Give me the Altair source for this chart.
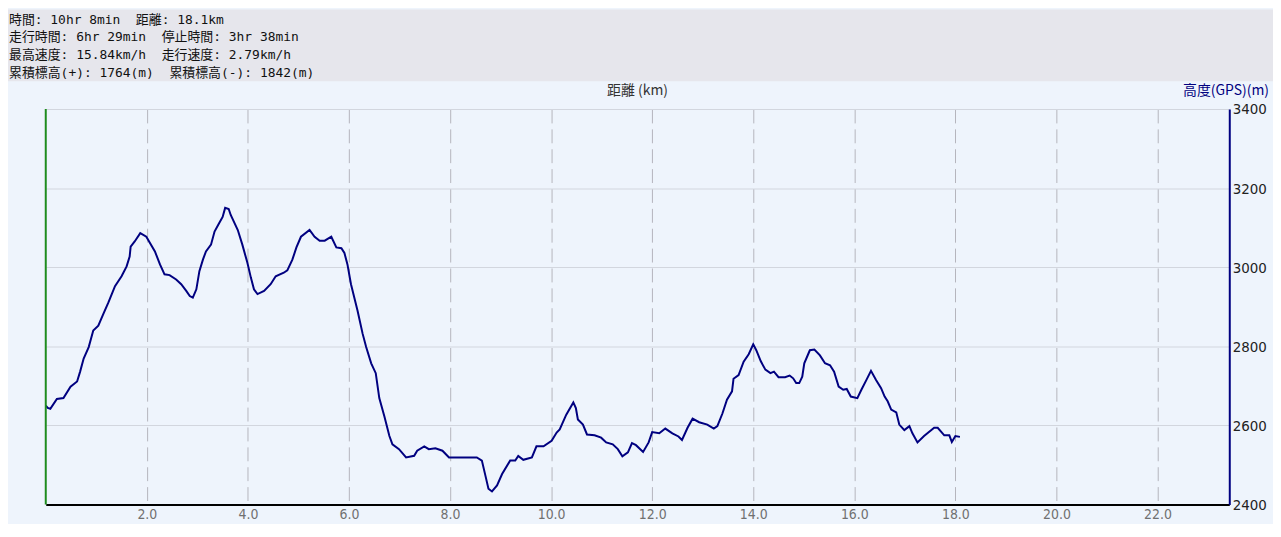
import altair as alt
import pandas as pd

# ---------------- data ----------------
km = [0.00, 0.04, 0.09, 0.22, 0.35, 0.49, 0.62, 0.68, 0.75, 0.85, 0.94, 1.04, 1.14, 1.24,
      1.37, 1.50, 1.60, 1.66, 1.68, 1.76, 1.87, 1.99, 2.16, 2.26, 2.35, 2.45, 2.58, 2.68,
      2.78, 2.85, 2.91, 2.98, 3.04, 3.11, 3.17, 3.27, 3.34, 3.43, 3.50, 3.55, 3.62, 3.66,
      3.80, 3.89, 3.99, 4.06, 4.12, 4.19, 4.32, 4.45, 4.55, 4.71, 4.78, 4.88, 4.96, 5.05,
      5.22, 5.32, 5.42, 5.52, 5.65, 5.75, 5.85, 5.91, 5.97, 6.04, 6.17, 6.27, 6.34, 6.44,
      6.53, 6.60, 6.70, 6.80, 6.86, 6.99, 7.13, 7.29, 7.35, 7.49, 7.58, 7.71, 7.85, 7.98,
      8.53, 8.63, 8.70, 8.76, 8.83, 8.93, 9.03, 9.19, 9.29, 9.35, 9.45, 9.62, 9.71, 9.85,
      10.01, 10.11, 10.17, 10.30, 10.44, 10.49, 10.53, 10.63, 10.71, 10.86, 10.99, 11.09,
      11.22, 11.32, 11.41, 11.52, 11.60, 11.68, 11.82, 11.93, 12.00, 12.14, 12.26, 12.40,
      12.52, 12.59, 12.70, 12.80, 12.93, 13.09, 13.22, 13.29, 13.39, 13.48, 13.58, 13.61,
      13.71, 13.81, 13.91, 14.00, 14.06, 14.15, 14.24, 14.34, 14.41, 14.50, 14.63, 14.72,
      14.79, 14.85, 14.91, 14.97, 15.01, 15.12, 15.21, 15.32, 15.42, 15.52, 15.60, 15.69,
      15.78, 15.85, 15.93, 16.06, 16.14, 16.24, 16.33, 16.43, 16.53, 16.60, 16.66, 16.73,
      16.83, 16.89, 16.99, 17.09, 17.15, 17.25, 17.38, 17.58, 17.65, 17.78, 17.88, 17.93,
      18.00, 18.09]
elev = [2650, 2644, 2642, 2667, 2669, 2698, 2711, 2736, 2769, 2798, 2840, 2852, 2882, 2911,
        2952, 2977, 3002, 3027, 3052, 3065, 3086, 3077, 3040, 3007, 2982, 2980, 2969, 2957,
        2940, 2927, 2923, 2944, 2990, 3019, 3040, 3057, 3090, 3111, 3127, 3150, 3147, 3132,
        3094, 3057, 3011, 2973, 2944, 2932, 2940, 2957, 2977, 2986, 2992, 3019, 3050, 3077,
        3094, 3077, 3067, 3067, 3077, 3050, 3048, 3036, 3007, 2957, 2890, 2832, 2798, 2757,
        2732, 2669, 2623, 2573, 2552, 2540, 2519, 2523, 2536, 2547, 2540, 2542, 2536, 2519,
        2519, 2511, 2473, 2440, 2433, 2448, 2477, 2511, 2511, 2523, 2513, 2519, 2547, 2547,
        2561, 2582, 2590, 2627, 2658, 2644, 2615, 2602, 2577, 2575, 2569, 2557,
        2552, 2540, 2522, 2532, 2555, 2550, 2533, 2557, 2583, 2580, 2592, 2580,
        2572, 2563, 2594, 2617, 2608, 2602, 2592, 2598, 2630, 2665, 2686, 2718,
        2727, 2761, 2780, 2805, 2790, 2762, 2741, 2732, 2736, 2722, 2722, 2726,
        2719, 2707, 2707, 2723, 2757, 2790, 2792, 2777, 2757, 2752, 2736, 2698,
        2690, 2692, 2673, 2669, 2690, 2715, 2738, 2715, 2694, 2673, 2661, 2640,
        2633, 2602, 2588, 2598, 2580, 2557, 2573, 2594, 2594, 2575, 2575, 2558,
        2573, 2571]

x_ticks = [2, 4, 6, 8, 10, 12, 14, 16, 18, 20, 22]
y_ticks = [2400, 2600, 2800, 3000, 3200, 3400]
x_domain = [0, 23.42]
y_domain = [2400, 3400]

header_lines = [
    "時間: 10hr 8min \u00a0距離: 18.1km",
    "走行時間: 6hr 29min \u00a0停止時間: 3hr 38min",
    "最高速度: 15.84km/h \u00a0走行速度: 2.79km/h",
    "累積標高(+): 1764(m) \u00a0累積標高(-): 1842(m)",
]
x_title = "距離 (km)"
y_title = "高度(GPS)(m)"

# ---------------- layout ----------------
W, H = 1191, 398
PAD_L, PAD_T, PAD_R, PAD_B = 38, 100, 44, 18
BG = "#eef4fc"
HEADER_BG = "#e6e6ec"
NAVY = "#000080"
CJK = "Noto Sans CJK JP"
MONO = "DejaVu Sans Mono, Noto Sans CJK JP, monospace"
NUM = "Liberation Sans Narrow, DejaVu Sans Condensed, sans-serif"

df = pd.DataFrame({"km": km, "elev": elev})
dummy = pd.DataFrame({"a": [0]})

x_scale = alt.Scale(domain=x_domain, nice=False, zero=False)
y_scale = alt.Scale(domain=y_domain, nice=False, zero=False)

header_bg = alt.Chart(dummy).mark_rect(fill=HEADER_BG).encode(
    x=alt.value(-PAD_L), x2=alt.value(W + PAD_R),
    y=alt.value(-PAD_T), y2=alt.value(-28),
)

header_texts = [
    alt.Chart(dummy).mark_text(
        align="left", baseline="middle", font=MONO, fontSize=13, color="#111"
    ).encode(x=alt.value(-PAD_L + 1), y=alt.value(-90 + 18 * i), text=alt.value(t))
    for i, t in enumerate(header_lines)
]

line = alt.Chart(df).mark_line(color=NAVY, strokeWidth=2).encode(
    x=alt.X("km:Q", scale=x_scale,
            axis=alt.Axis(values=x_ticks, format=".1f", orient="bottom", grid=True,
                          gridDash=[14, 6], gridColor="#b4b4bc", gridWidth=1,
                          domainColor="#000000", domainWidth=2, ticks=False,
                          labelColor="#707070", labelFontSize=14, labelFont=NUM,
                          labelPadding=3, labelFlush=False, title=None)),
    y=alt.Y("elev:Q", scale=y_scale,
            axis=alt.Axis(values=y_ticks, format="d", orient="right", grid=True,
                          gridColor="#d2d6de", gridWidth=1,
                          domainColor=NAVY, domainWidth=2, ticks=False,
                          labelColor="#222222", labelFontSize=15, labelFont=NUM,
                          labelAlign="left", labelBaseline="middle",
                          labelFlush=False, labelPadding=3, title=None)),
)

left_rule = alt.Chart(dummy).mark_rule(color="#1e8c1e", strokeWidth=2).encode(
    x=alt.value(0), y=alt.value(0), y2=alt.value(H)
)

xt = alt.Chart(dummy).mark_text(
    align="center", baseline="middle", font=CJK, fontSize=14, color="#333333"
).encode(x=alt.value(W / 2), y=alt.value(-18), text=alt.value(x_title))

yt = alt.Chart(dummy).mark_text(
    align="right", baseline="middle", font=CJK, fontSize=14, color=NAVY
).encode(x=alt.value(W + 40), y=alt.value(-18), text=alt.value(y_title))

chart = alt.layer(header_bg, *header_texts, line, left_rule, xt, yt).properties(
    width=W, height=H,
    padding={"left": PAD_L, "top": PAD_T, "right": PAD_R, "bottom": PAD_B},
    autosize=alt.AutoSizeParams(type="none"),
    background=BG,
).configure_view(stroke=None, fill=BG)

chart.save("out.html", embed_options={"renderer": "svg", "actions": False})
